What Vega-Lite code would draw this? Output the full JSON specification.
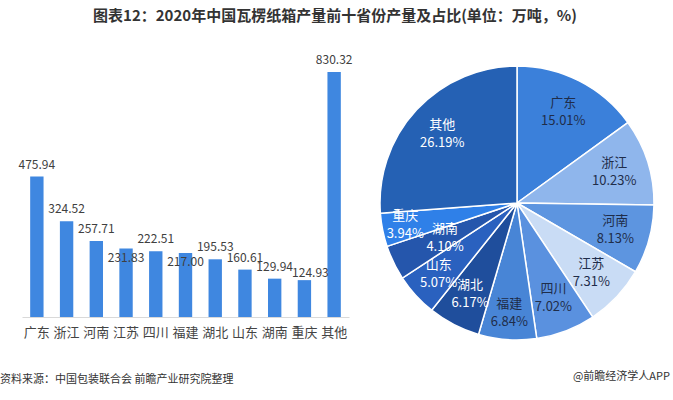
{
  "$schema": "https://vega.github.io/schema/vega-lite/v6.json",
  "background": "white",
  "padding": {"left": 0, "top": 8, "right": 3, "bottom": 5},
  "title": {"text": "图表12：2020年中国瓦楞纸箱产量前十省份产量及占比(单位：万吨，%)", "anchor": "middle", "fontSize": 15, "fontWeight": "bold", "color": "#333333", "font": "Noto Sans CJK SC", "offset": 30},
  "config": {"view": {"stroke": null}, "font": "Noto Sans CJK SC", "concat": {"spacing": 24}},
  "datasets": {
    "prov": [
      {"idx": 1, "name": "广东", "value": 475.94, "share": 0.1501},
      {"idx": 2, "name": "浙江", "value": 324.52, "share": 0.1023},
      {"idx": 3, "name": "河南", "value": 257.71, "share": 0.0813},
      {"idx": 4, "name": "江苏", "value": 231.83, "share": 0.0731},
      {"idx": 5, "name": "四川", "value": 222.51, "share": 0.0702},
      {"idx": 6, "name": "福建", "value": 217.00, "share": 0.0684},
      {"idx": 7, "name": "湖北", "value": 195.53, "share": 0.0617},
      {"idx": 8, "name": "山东", "value": 160.61, "share": 0.0507},
      {"idx": 9, "name": "湖南", "value": 129.94, "share": 0.0410},
      {"idx": 10, "name": "重庆", "value": 124.93, "share": 0.0394},
      {"idx": 11, "name": "其他", "value": 830.32, "share": 0.2619}
    ]
  },
  "hconcat": [
    {
      "width": 327,
      "height": 251,
      "data": {"name": "prov"},
      "title": {"text": "资料来源：中国包装联合会 前瞻产业研究院整理", "orient": "bottom", "anchor": "start", "frame": "group", "dx": -22, "fontSize": 11, "fontWeight": "normal", "color": "#333333", "offset": 35},
      "encoding": {
        "x": {"field": "name", "type": "nominal", "sort": null, "scale": {"paddingInner": 0.55, "paddingOuter": 0.275}, "axis": {"title": null, "labelAngle": 0, "ticks": false, "domainColor": "#d9d9d9", "labelFontSize": 13, "labelColor": "#444444", "labelPadding": 9}},
        "y": {"field": "value", "type": "quantitative", "scale": {"domain": [0, 850.6], "nice": false}, "axis": null}
      },
      "layer": [
        {"mark": {"type": "bar", "color": "#3f87e0"}},
        {"transform": [{"filter": "datum.name != '江苏' && datum.name != '福建'"}], "mark": {"type": "text", "baseline": "bottom", "dy": {"expr": "datum.name == '重庆' ? 0 : -5"}, "dx": {"expr": "datum.name == '重庆' ? 6 : 0"}, "fontSize": 12, "color": "#404040"}, "encoding": {"text": {"field": "value", "type": "quantitative", "format": ".2f"}}},
        {"transform": [{"filter": "datum.name == '江苏' || datum.name == '福建'"}], "mark": {"type": "text", "baseline": "top", "dy": 4, "fontSize": 12, "color": "#404040"}, "encoding": {"text": {"field": "value", "type": "quantitative", "format": ".2f"}}}
      ]
    },
    {
      "width": 274,
      "height": 274,
      "data": {"name": "prov"},
      "title": {"text": "@前瞻经济学人APP", "orient": "bottom", "anchor": "end", "frame": "group", "dx": 16, "fontSize": 11, "fontWeight": "normal", "color": "#333333", "offset": 28},
      "encoding": {
        "theta": {"field": "share", "type": "quantitative", "stack": true},
        "order": {"field": "idx", "type": "quantitative"}
      },
      "layer": [
        {"mark": {"type": "arc", "outerRadius": 137, "stroke": "white", "strokeWidth": 1.5},
         "encoding": {"color": {"field": "name", "type": "nominal", "legend": null, "scale": {"domain": ["广东", "浙江", "河南", "江苏", "四川", "福建", "湖北", "山东", "湖南", "重庆", "其他"], "range": ["#3b80da", "#8fb6ec", "#5d95e0", "#c9dcf5", "#5a91df", "#4885d6", "#1f4e9c", "#2a61bf", "#2556ac", "#2f80e8", "#2561b4"]}}}},
        {"mark": {"type": "text", "radius": {"expr": "datum.name == '湖南' ? 80 : datum.name == '重庆' ? 114 : datum.name == '山东' ? 106 : datum.name == '福建' ? 110 : 102"}, "dy": -9, "fontSize": 13},
         "encoding": {"text": {"field": "name", "type": "nominal"}, "color": {"condition": {"test": "indexof(['湖北','山东','湖南','重庆','其他'], datum.name) >= 0", "value": "#ffffff"}, "value": "#1f2d4a"}}},
        {"mark": {"type": "text", "radius": {"expr": "datum.name == '湖南' ? 80 : datum.name == '重庆' ? 114 : datum.name == '山东' ? 106 : datum.name == '福建' ? 110 : 102"}, "dy": 9, "fontSize": 13},
         "encoding": {"text": {"field": "share", "type": "quantitative", "format": ".2%"}, "color": {"condition": {"test": "indexof(['湖北','山东','湖南','重庆','其他'], datum.name) >= 0", "value": "#ffffff"}, "value": "#1f2d4a"}}}
      ]
    }
  ]
}
